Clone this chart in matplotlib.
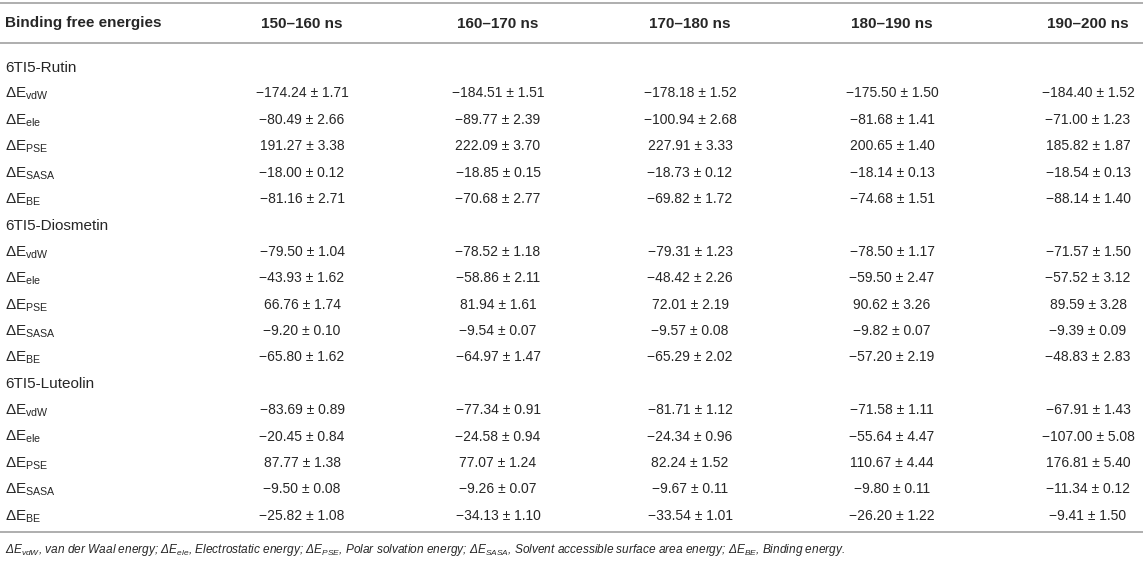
import matplotlib
matplotlib.use("Agg")
import matplotlib.pyplot as plt

plt.rcParams['font.family'] = ['Liberation Sans', 'DejaVu Sans']
plt.rcParams['mathtext.fontset'] = 'custom'
plt.rcParams['mathtext.rm'] = 'Liberation Sans'
plt.rcParams['mathtext.it'] = 'Liberation Sans:italic'
plt.rcParams['mathtext.bf'] = 'Liberation Sans:bold'

header_first = "Binding free energies"
periods = ["150–160 ns", "160–170 ns", "170–180 ns", "180–190 ns", "190–200 ns"]
complexes = ["6TI5-Rutin", "6TI5-Diosmetin", "6TI5-Luteolin"]
terms = ["vdW", "ele", "PSE", "SASA", "BE"]

rutin_mean = [
    [-174.24, -184.51, -178.18, -175.50, -184.40],
    [-80.49, -89.77, -100.94, -81.68, -71.00],
    [191.27, 222.09, 227.91, 200.65, 185.82],
    [-18.00, -18.85, -18.73, -18.14, -18.54],
    [-81.16, -70.68, -69.82, -74.68, -88.14],
]
rutin_err = [
    [1.71, 1.51, 1.52, 1.50, 1.52],
    [2.66, 2.39, 2.68, 1.41, 1.23],
    [3.38, 3.70, 3.33, 1.40, 1.87],
    [0.12, 0.15, 0.12, 0.13, 0.13],
    [2.71, 2.77, 1.72, 1.51, 1.40],
]
diosmetin_mean = [
    [-79.50, -78.52, -79.31, -78.50, -71.57],
    [-43.93, -58.86, -48.42, -59.50, -57.52],
    [66.76, 81.94, 72.01, 90.62, 89.59],
    [-9.20, -9.54, -9.57, -9.82, -9.39],
    [-65.80, -64.97, -65.29, -57.20, -48.83],
]
diosmetin_err = [
    [1.04, 1.18, 1.23, 1.17, 1.50],
    [1.62, 2.11, 2.26, 2.47, 3.12],
    [1.74, 1.61, 2.19, 3.26, 3.28],
    [0.10, 0.07, 0.08, 0.07, 0.09],
    [1.62, 1.47, 2.02, 2.19, 2.83],
]
luteolin_mean = [
    [-83.69, -77.34, -81.71, -71.58, -67.91],
    [-20.45, -24.58, -24.34, -55.64, -107.00],
    [87.77, 77.07, 82.24, 110.67, 176.81],
    [-9.50, -9.26, -9.67, -9.80, -11.34],
    [-25.82, -34.13, -33.54, -26.20, -9.41],
]
luteolin_err = [
    [0.89, 0.91, 1.12, 1.11, 1.43],
    [0.84, 0.94, 0.96, 4.47, 5.08],
    [1.38, 1.24, 1.52, 4.44, 5.40],
    [0.08, 0.07, 0.11, 0.11, 0.12],
    [1.08, 1.10, 1.01, 1.22, 1.50],
]
footnote_parts = [
    ("vdW", "van der Waal energy"),
    ("ele", "Electrostatic energy"),
    ("PSE", "Polar solvation energy"),
    ("SASA", "Solvent accessible surface area energy"),
    ("BE", "Binding energy"),
]

W, H = 1143, 563
fig = plt.figure(figsize=(W / 100, H / 100), dpi=100)
ax = fig.add_axes([0, 0, 1, 1])
ax.set_xlim(0, W)
ax.set_ylim(H, 0)
ax.axis('off')

txt = '#262626'
line_c = '#a8a8a8'
fs_val = 10.0
fs_lab = 11.0
fs_head = 11.0

col_x = [302, 498, 690, 892, 1088]
label_x = 5
bl = 5.0  # baseline offset below row centre

def fmt(v):
    s = f"{abs(v):.2f}"
    return ("−" + s) if v < 0 else s

# rules
ax.plot([0, W], [2.5, 2.5], color=line_c, lw=1.3)
ax.plot([0, W], [43, 43], color=line_c, lw=1.3)

header_y = 22
ax.text(label_x, header_y + 5.5, header_first, ha='left', va='baseline',
        fontsize=fs_head, fontweight='bold', color=txt)
for x, p in zip(col_x, periods):
    ax.text(x, header_y + 5.5, p, ha='center', va='baseline', fontsize=fs_head,
            fontweight='bold', color=txt)

y0 = 66
dy = 26.4
row = 0
groups = [(rutin_mean, rutin_err), (diosmetin_mean, diosmetin_err),
          (luteolin_mean, luteolin_err)]
for cname, (means, errs) in zip(complexes, groups):
    y = y0 + row * dy
    ax.text(label_x, y + 5.5, cname, ha='left', va='baseline', fontsize=fs_lab,
            color=txt)
    row += 1
    for ti, term in enumerate(terms):
        y = y0 + row * dy
        ax.text(label_x, y + 5.5, r"ΔE$_{\mathrm{" + term + "}}$", ha='left',
                va='baseline', fontsize=fs_lab, color=txt)
        for ci, x in enumerate(col_x):
            ax.text(x, y + bl, f"{fmt(means[ti][ci])} ± {errs[ti][ci]:.2f}",
                    ha='center', va='baseline', fontsize=fs_val, color=txt)
        row += 1

bottom_y = 532
ax.plot([0, W], [bottom_y, bottom_y], color=line_c, lw=1.3)

foot = "; ".join(r"Δ$\mathit{E_{" + t + "}}$, " + d for t, d in footnote_parts) + "."
ax.text(label_x, 553, foot, ha='left', va='baseline', fontsize=8.6,
        color=txt, style='italic')

fig.savefig("out.png", dpi=100)
